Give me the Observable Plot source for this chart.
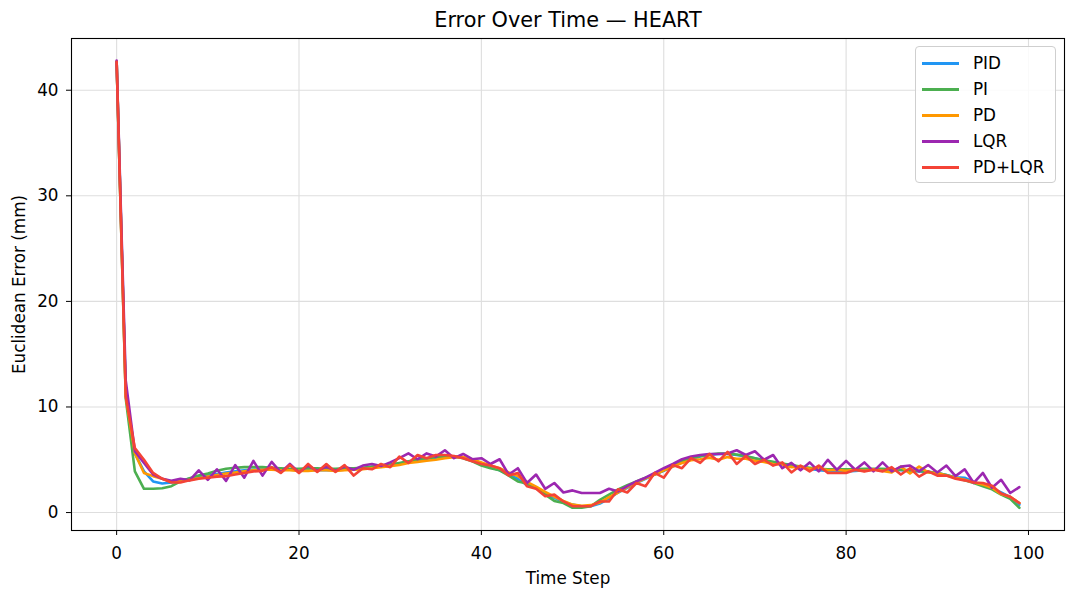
<!DOCTYPE html>
<html><head><meta charset="utf-8">
<script src="https://cdn.jsdelivr.net/npm/d3@7"></script>
<script src="https://cdn.jsdelivr.net/npm/@observablehq/plot@0.6"></script>
<style>
body{margin:0;background:#fff;font-family:"DejaVu Sans",sans-serif;}
#wrap{position:relative;width:1069px;height:590px;}
.legend{position:absolute;left:915px;top:46px;width:141px;height:137px;border:1px solid #cfcfcf;border-radius:4px;background:rgba(255,255,255,0.85);box-sizing:border-box;}
.row{position:absolute;left:0;height:22px;font-size:16.8px;color:#000;}
.row .sw{position:absolute;left:6px;top:10px;width:37px;height:3px;}
.row .lb{position:absolute;left:57px;top:0;white-space:nowrap;line-height:22px;}
</style></head>
<body><div id="wrap"></div>
<script>
const title = "Error Over Time — HEART";
const xLabel = "Time Step";
const yLabel = "Euclidean Error (mm)";
const seriesNames = ["PID", "PI", "PD", "LQR", "PD+LQR"];
const seriesColors = ["#2196F3", "#4CAF50", "#FF9800", "#9C27B0", "#F44336"];
const xTicks = [0, 20, 40, 60, 80, 100];
const yTicks = [0, 10, 20, 30, 40];

const pid = [42.7,11.5,5.6,3.9,2.95,2.75,2.85,3.05,3.2,3.35,3.5,3.65,3.8,3.9,4.0,4.05,4.1,4.1,4.1,4.05,
4.0,4.0,4.0,4.0,4.0,4.05,4.1,4.2,4.3,4.4,4.5,4.65,4.8,4.95,5.1,5.2,5.3,5.3,5.2,5.0,
4.7,4.3,4.0,3.6,3.2,2.6,2.3,1.8,1.4,1.0,0.75,0.6,0.6,0.85,1.35,1.9,2.35,2.8,3.2,3.6,
3.95,4.35,4.75,5.05,5.3,5.45,5.55,5.55,5.45,5.3,5.15,4.95,4.75,4.6,4.45,4.3,4.15,4.0,3.95,3.9,
3.9,3.95,4.0,4.05,4.05,4.05,4.0,3.95,3.9,3.85,3.75,3.55,3.35,3.3,2.9,2.6,2.3,1.9,1.45,0.75];

const pi = [42.7,10.8,3.9,2.25,2.25,2.3,2.5,2.95,3.25,3.5,3.7,3.95,4.15,4.25,4.3,4.3,4.3,4.25,4.2,4.15,
4.15,4.2,4.2,4.15,4.15,4.2,4.2,4.25,4.35,4.45,4.55,4.7,4.85,5.0,5.15,5.25,5.35,5.3,5.15,4.85,
4.45,4.2,4.0,3.5,2.95,2.75,2.35,1.7,1.1,0.9,0.45,0.45,0.6,1.2,1.7,2.2,2.6,2.95,3.3,3.6,
4.0,4.45,4.85,5.15,5.35,5.5,5.6,5.6,5.5,5.35,5.15,4.95,4.8,4.65,4.5,4.35,4.25,4.15,4.1,4.1,
4.1,4.1,4.15,4.15,4.15,4.1,4.05,4.0,3.95,3.85,3.75,3.55,3.3,3.05,2.8,2.5,2.2,1.7,1.3,0.45];

const pd = [42.7,11.0,5.6,3.75,3.45,3.2,2.95,2.95,3.1,3.25,3.4,3.55,3.7,3.8,3.9,4.0,4.05,4.05,4.0,4.0,
3.95,3.95,4.0,4.0,3.95,4.0,4.05,4.1,4.2,4.3,4.4,4.5,4.7,4.8,4.9,5.0,5.15,5.25,5.25,5.05,
4.75,4.45,4.2,3.8,3.45,2.9,2.45,1.95,1.5,1.1,0.75,0.65,0.7,0.95,1.45,1.9,2.4,2.85,3.25,3.6,
4.0,4.35,4.7,4.95,5.05,5.2,5.0,5.25,5.1,5.1,4.9,4.8,4.6,4.55,4.3,4.35,4.15,4.2,4.0,4.05,
3.95,4.05,3.95,4.1,3.95,3.8,4.35,3.7,4.35,3.8,3.75,3.5,3.3,3.1,2.85,2.65,2.35,1.75,1.5,0.9];

const lqr = [42.8,12.5,5.8,4.7,3.6,3.2,3.0,3.2,3.05,4.0,3.1,4.1,3.0,4.5,3.3,4.9,3.5,4.8,3.8,4.6,
3.8,4.45,3.95,4.35,3.95,4.35,4.05,4.45,4.6,4.4,4.75,5.15,5.6,5.05,5.6,5.3,5.9,5.15,5.55,5.05,
5.15,4.6,5.05,3.6,4.2,2.8,3.6,2.25,2.8,1.9,2.1,1.85,1.85,1.85,2.25,2.0,2.5,2.95,3.3,3.75,
4.2,4.6,5.05,5.3,5.45,5.55,5.55,5.6,5.9,5.45,5.8,5.0,5.45,4.2,4.7,4.0,4.75,3.9,5.0,4.05,
4.9,4.05,4.75,3.9,4.75,3.9,4.35,4.45,3.9,4.5,3.8,4.45,3.45,4.1,2.8,3.75,2.35,3.1,1.85,2.4];

const pdlqr = [42.7,11.0,6.1,5.0,3.75,3.2,2.85,2.85,3.05,3.2,3.3,3.4,3.45,3.6,3.75,3.9,3.95,4.3,3.75,4.5,
3.74,4.6,3.85,4.6,3.85,4.5,3.5,4.2,4.1,4.6,4.3,5.3,4.7,5.45,5.15,5.45,5.45,5.35,5.15,4.85,
4.6,4.45,4.2,3.5,3.75,2.5,2.25,1.55,1.7,1.05,0.6,0.6,0.6,1.05,1.05,2.2,1.9,2.8,2.5,3.75,
3.3,4.5,4.2,5.15,4.7,5.55,4.85,5.75,4.6,5.35,4.6,5.0,4.45,4.75,3.8,4.45,3.9,4.45,3.75,3.75,
3.75,4.05,3.9,4.05,3.9,4.3,3.6,4.2,3.4,3.9,3.5,3.5,3.2,3.05,2.85,2.8,2.55,1.8,1.5,0.9];

const seriesValues = [pid, pi, pd, lqr, pdlqr];
const data = seriesNames.flatMap((name, i) => seriesValues[i].map((v, t) => ({t, v, name})));

const chart = Plot.plot({
  width: 1069,
  height: 590,
  marginTop: 38,
  marginLeft: 71,
  marginRight: 5,
  marginBottom: 60,
  style: {fontFamily: "DejaVu Sans, sans-serif", fontSize: "16.8px", color: "#000", background: "#fff", overflow: "visible"},
  x: {domain: [-4.95, 103.95]},
  y: {domain: [-1.7, 44.9]},
  color: {domain: seriesNames, range: seriesColors},
  marks: [
    Plot.gridX(xTicks, {stroke: "#dedede", strokeOpacity: 1, strokeWidth: 1.1}),
    Plot.gridY(yTicks, {stroke: "#dedede", strokeOpacity: 1, strokeWidth: 1.1}),
    Plot.line(data, {x: "t", y: "v", z: "name", stroke: "name", strokeWidth: 2.6, strokeLinejoin: "round"}),
    Plot.frame({stroke: "#000", strokeWidth: 1.1}),
    Plot.axisX({ticks: xTicks, tickSize: 5, tickPadding: 12, fontSize: 16.8, label: xLabel, labelAnchor: "center", labelArrow: "none", labelOffset: 53}),
    Plot.axisY({ticks: yTicks, tickSize: 5, tickPadding: 8, fontSize: 16.8, label: yLabel, labelAnchor: "center", labelArrow: "none", labelOffset: 58}),
    Plot.text([title], {frameAnchor: "top", lineAnchor: "middle", dy: -18, fontSize: 20.8, fill: "#000"})
  ]
});
const wrap = document.getElementById("wrap");
wrap.appendChild(chart);

const legend = document.createElement("div");
legend.className = "legend";
seriesNames.forEach((name, i) => {
  const row = document.createElement("div");
  row.className = "row";
  row.style.top = (5 + i * 26) + "px";
  const sw = document.createElement("div");
  sw.className = "sw";
  sw.style.background = seriesColors[i];
  const lb = document.createElement("div");
  lb.className = "lb";
  lb.textContent = name;
  row.appendChild(sw); row.appendChild(lb);
  legend.appendChild(row);
});
wrap.appendChild(legend);
</script></body></html>
